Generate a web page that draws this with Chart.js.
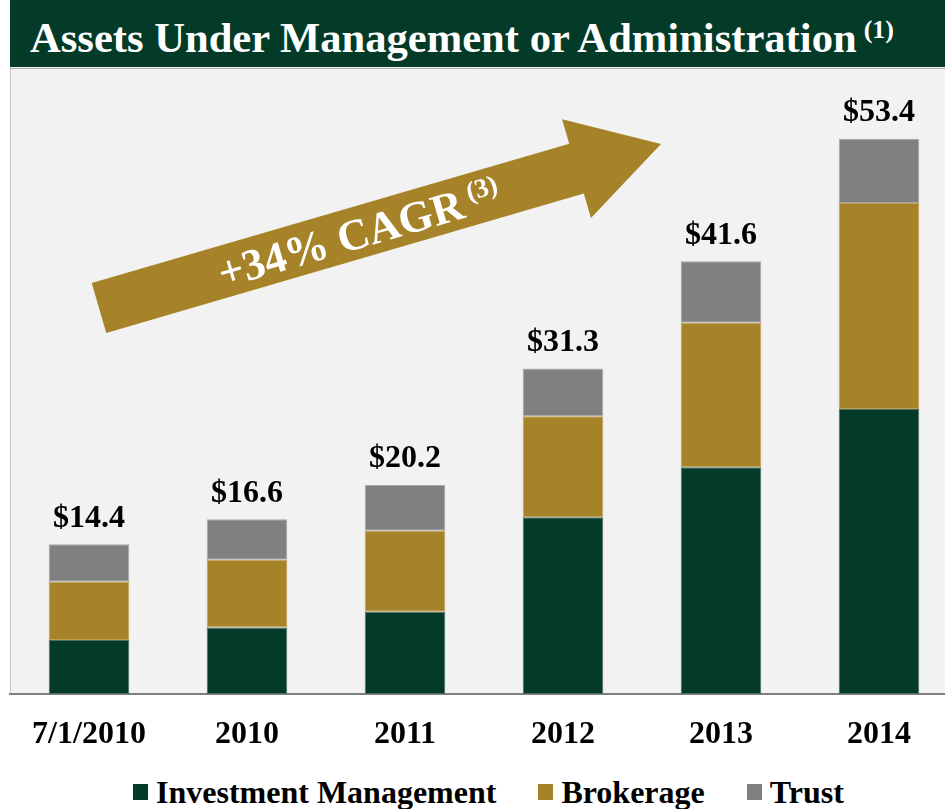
<!DOCTYPE html>
<html lang="en">
<head>
    <meta charset="UTF-8">
    <title>Assets Under Management or Administration</title>
    <script src="https://cdn.jsdelivr.net/npm/chart.js"></script>
    <style>
        body {
            margin: 0;
            width: 945px;
            height: 809px;
            overflow: hidden;
            background: #fff;
            position: relative;
            font-family: "Liberation Serif", "Times New Roman", serif;
        }

        #title {
            position: absolute;
            left: 10px;
            top: 0;
            width: 935px;
            height: 67px;
            box-sizing: border-box;
            padding-left: 20px;
            padding-top: 4px;
            line-height: 67px;
            background: #033a28;
            color: #fff;
            font-weight: bold;
            font-size: 42.6px;
            white-space: nowrap;
            z-index: 2;
        }

        #title sup {
            font-size: 26px;
            vertical-align: baseline;
            position: relative;
            top: -14px;
            margin-left: 7px;
        }

        #wrap {
            position: absolute;
            left: 0;
            top: 0;
            width: 958px;
            height: 760px;
        }

        #legend {
            position: absolute;
            left: 133px;
            top: 776px;
            display: flex;
            gap: 42px;
            font-weight: bold;
            font-size: 32px;
            line-height: 32px;
            white-space: nowrap;
        }

        #legend .item {
            display: flex;
            align-items: center;
        }

        #legend .box {
            width: 15px;
            height: 16px;
            margin-right: 8px;
        }
    </style>
</head>
<body>
    <div id="title">Assets Under Management or Administration<sup>(1)</sup></div>
    <div id="wrap"><canvas id="aum" width="958" height="760"></canvas></div>
    <div id="legend"></div>

    <script>
        // valeurs (milliards $)
        const categories = ["7/1/2010", "2010", "2011", "2012", "2013", "2014"];
        const investmentMgmt = [5.2, 6.4, 7.9, 17.0, 21.8, 27.4];
        const brokerage = [5.6, 6.5, 7.8, 9.7, 13.9, 19.8];
        const trust = [3.6, 3.9, 4.4, 4.6, 5.9, 6.2];
        const totalLabels = ["$14.4", "$16.6", "$20.2", "$31.3", "$41.6", "$53.4"];
        const seriesNames = ["Investment Management", "Brokerage", "Trust"];

        const colors = ["#033a28", "#a68329", "#808080"];
        const edges = ["#4f7064", "#bfa152", "#a8a8a8"];
        const serif = '"Liberation Serif", "Times New Roman", serif';

        // fond gris de la zone de tracé
        const plotBackground = {
            id: "plotBackground",
            beforeDraw(chart) {
                const ctx = chart.ctx;
                const area = chart.chartArea;
                ctx.save();
                ctx.fillStyle = "#f2f2f2";
                ctx.fillRect(area.left, 67, 945 - area.left, area.bottom - 67);
                ctx.strokeStyle = "#c6c6c6";
                ctx.lineWidth = 1;
                ctx.beginPath();
                ctx.moveTo(area.left + 0.5, 67);
                ctx.lineTo(area.left + 0.5, area.bottom);
                ctx.stroke();
                ctx.strokeStyle = "#b0b0b0";
                ctx.beginPath();
                ctx.moveTo(area.left, 68.5);
                ctx.lineTo(945, 68.5);
                ctx.stroke();
                ctx.restore();
            }
        };

        // totaux au-dessus des barres
        const totalsPlugin = {
            id: "totals",
            afterDatasetsDraw(chart) {
                const ctx = chart.ctx;
                const top = chart.getDatasetMeta(2).data;
                ctx.save();
                ctx.font = "bold 32px " + serif;
                ctx.fillStyle = "#000";
                ctx.textAlign = "center";
                ctx.textBaseline = "alphabetic";
                top.forEach((bar, i) => {
                    ctx.fillText(totalLabels[i], bar.x, bar.y - 17.5);
                });
                ctx.restore();
            }
        };

        // flèche "+34% CAGR"
        const cagrArrow = {
            id: "cagrArrow",
            afterDatasetsDraw(chart) {
                const ctx = chart.ctx;
                const tail = { x: 99, y: 308 };
                const tip = { x: 661, y: 144 };
                const shaft = 52, head = 103, headLen = 88;
                const angle = Math.atan2(tip.y - tail.y, tip.x - tail.x);
                const len = Math.hypot(tip.x - tail.x, tip.y - tail.y);

                ctx.save();
                ctx.translate(tail.x, tail.y);
                ctx.rotate(angle);
                ctx.fillStyle = "#a68329";
                ctx.beginPath();
                ctx.moveTo(0, -shaft / 2);
                ctx.lineTo(len - headLen, -shaft / 2);
                ctx.lineTo(len - headLen, -head / 2);
                ctx.lineTo(len, 0);
                ctx.lineTo(len - headLen, head / 2);
                ctx.lineTo(len - headLen, shaft / 2);
                ctx.lineTo(0, shaft / 2);
                ctx.closePath();
                ctx.fill();
                ctx.restore();

                ctx.save();
                ctx.translate(359, 233);
                ctx.rotate(angle);
                ctx.fillStyle = "#fff";
                ctx.textBaseline = "alphabetic";
                ctx.textAlign = "left";
                const main = "+34% CAGR";
                const sup = "(3)";
                ctx.font = "bold 44px " + serif;
                const w1 = ctx.measureText(main).width;
                ctx.font = "bold 27px " + serif;
                const w2 = ctx.measureText(sup).width;
                const gap = 7;
                const x0 = -(w1 + gap + w2) / 2;
                ctx.font = "bold 44px " + serif;
                ctx.fillText(main, x0, 15);
                ctx.font = "bold 27px " + serif;
                ctx.fillText(sup, x0 + w1 + gap, 0);
                ctx.restore();
            }
        };

        const datasets = [investmentMgmt, brokerage, trust].map((values, i) => ({
            label: seriesNames[i],
            data: values,
            backgroundColor: colors[i],
            borderColor: edges[i],
            borderWidth: 1,
            borderSkipped: false,
            categoryPercentage: 1,
            barPercentage: 0.51
        }));

        new Chart(document.getElementById("aum"), {
            type: "bar",
            data: { labels: categories, datasets: datasets },
            options: {
                responsive: false,
                animation: false,
                layout: { padding: { left: 10, top: 70, right: 0, bottom: 0 } },
                plugins: {
                    legend: { display: false },
                    title: { display: false },
                    tooltip: { enabled: false }
                },
                scales: {
                    x: {
                        stacked: true,
                        grid: { display: false, drawTicks: false },
                        border: { display: true, color: "#808080", width: 2 },
                        ticks: {
                            color: "#000",
                            padding: 22,
                            font: { family: serif, size: 32, weight: "bold" }
                        },
                        afterFit(scale) { scale.height = 66; }
                    },
                    y: {
                        stacked: true,
                        display: false,
                        min: 0,
                        max: 60
                    }
                }
            },
            plugins: [plotBackground, totalsPlugin, cagrArrow]
        });

        // légende
        const legend = document.getElementById("legend");
        seriesNames.forEach((name, i) => {
            const item = document.createElement("div");
            item.className = "item";
            item.innerHTML = '<span class="box" style="background:' + colors[i] + '"></span><span>' + name + '</span>';
            legend.appendChild(item);
        });
    </script>
</body>
</html>
